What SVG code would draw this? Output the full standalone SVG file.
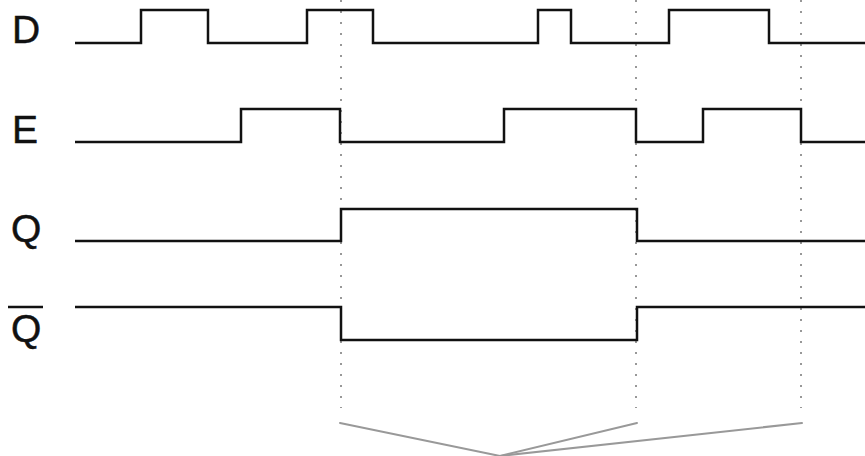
<svg xmlns="http://www.w3.org/2000/svg" width="865" height="456" viewBox="0 0 865 456">
<style>
.lbl{font-family:"Liberation Sans",Arial,sans-serif;font-size:39px;fill:#111;stroke:#111;stroke-width:0.5}
.wave{fill:none;stroke:#111;stroke-width:2.5;stroke-linejoin:miter}
.grid{stroke:#777;stroke-width:1.5;stroke-dasharray:2 9}
.brace{fill:none;stroke:#999;stroke-width:2;stroke-linecap:round}
</style>
<rect width="865" height="456" fill="#fff"/>
<g id="connectors">
<line class="grid" x1="341" y1="0" x2="341" y2="408"/>
<line class="grid" x1="636" y1="0" x2="636" y2="408"/>
<line class="grid" x1="801" y1="0" x2="801" y2="408"/>
<polyline class="brace" points="340,423 500,456 637,423"/>
<polyline class="brace" points="500,456 802,423"/>
</g>
<g id="D">
<text class="lbl" x="12" y="43">D</text>
<polyline class="wave" points="75,43 141,43 141,10 208,10 208,43 307,43 307,10 373,10 373,43 538,43 538,10 571,10 571,43 669,43 669,10 769,10 769,43 865,43"/>
</g>
<g id="E">
<text class="lbl" x="12" y="143">E</text>
<polyline class="wave" points="75,142 241,142 241,109 340,109 340,142 504,142 504,109 636,109 636,142 703,142 703,109 801,109 801,142 865,142"/>
</g>
<g id="Q">
<text class="lbl" x="11" y="242">Q</text>
<polyline class="wave" points="75,241 341,241 341,209 637,209 637,241 865,241"/>
</g>
<g id="Qbar">
<text class="lbl" x="11" y="342">Q</text>
<line x1="8" y1="307" x2="43" y2="307" stroke="#111" stroke-width="2.5"/>
<polyline class="wave" points="75,307 341,307 341,340 637,340 637,307 865,307"/>
</g>
</svg>
